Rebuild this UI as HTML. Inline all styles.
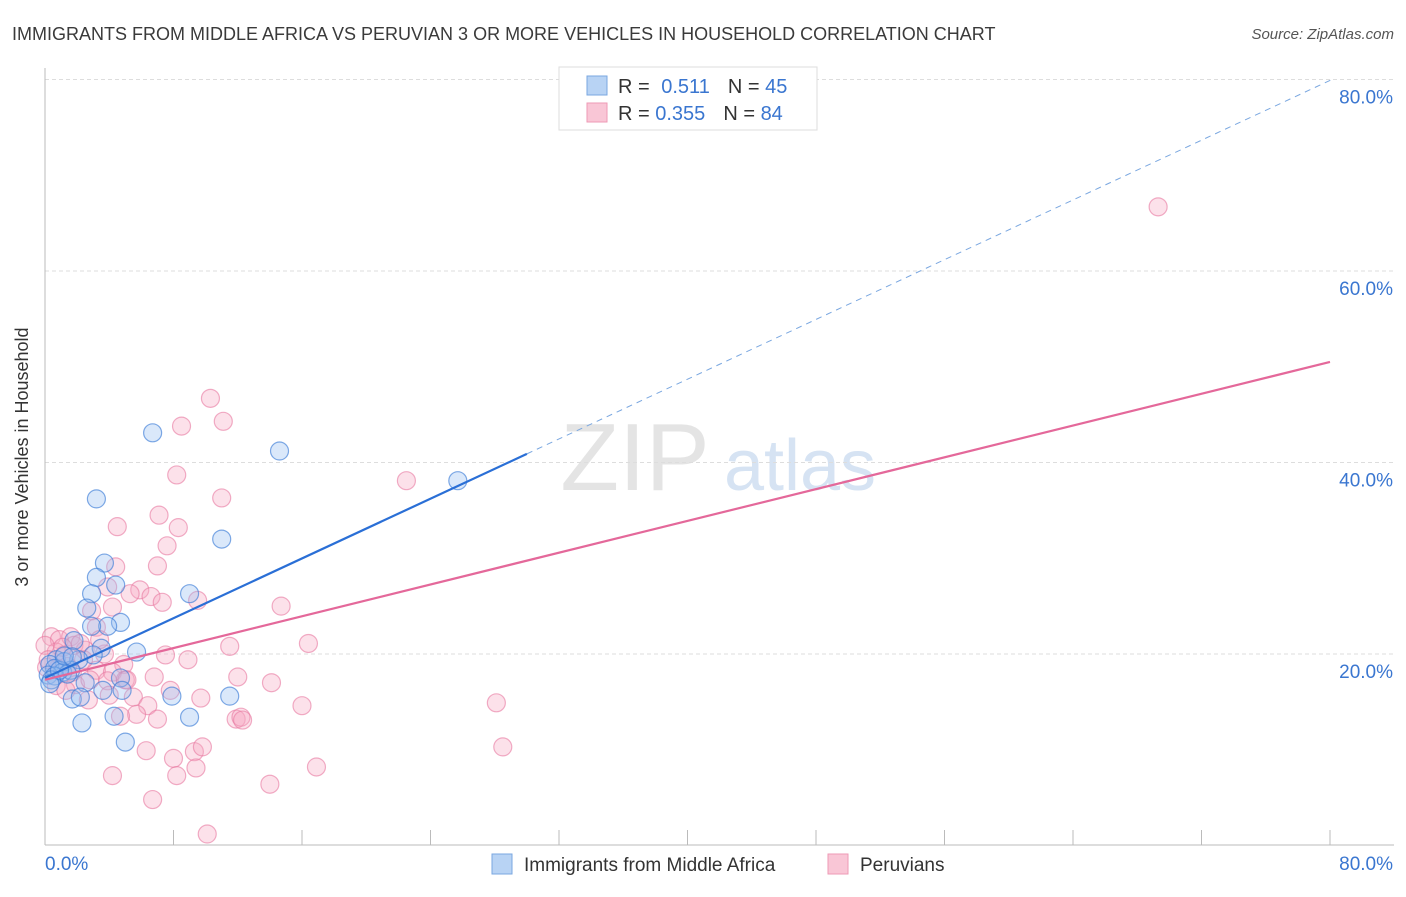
<!DOCTYPE html>
<html><head><meta charset="utf-8"><style>
body{margin:0;background:#fff;font-family:"Liberation Sans",sans-serif}
svg text{font-family:"Liberation Sans",sans-serif}
</style></head><body>
<svg width="1406" height="892" id="chart">
<text x="12" y="40" font-size="18" fill="#3a3a3a">IMMIGRANTS FROM MIDDLE AFRICA VS PERUVIAN 3 OR MORE VEHICLES IN HOUSEHOLD CORRELATION CHART</text>
<text x="1394" y="39" font-size="15" fill="#555" text-anchor="end" font-style="italic">Source: ZipAtlas.com</text>
<text x="28" y="457" font-size="18" fill="#333" text-anchor="middle" transform="rotate(-90 28 457)">3 or more Vehicles in Household</text>
<g><text x="635" y="490" font-size="96" fill="#e4e4e4" text-anchor="middle" font-family="Liberation Serif">ZIP</text><text x="800" y="490" font-size="72" fill="#d6e3f3" text-anchor="middle">atlas</text></g>
<g id="grid"></g><g id="axes"></g><g id="pts"></g><g id="trends"></g>
<g>
<rect x="559" y="67" width="258" height="63" fill="#fff" stroke="#ddd"/>
<rect x="587" y="76" width="20" height="19" fill="#b8d3f4" stroke="#7aa7e0"/>
<rect x="587" y="103" width="20" height="19" fill="#f9c6d6" stroke="#ee9ab5"/>
<text x="618" y="93" font-size="20" fill="#333">R = <tspan fill="#3a76d0" dx="6">0.511</tspan><tspan fill="#333" dx="18">N = </tspan><tspan fill="#3a76d0">45</tspan></text>
<text x="618" y="120" font-size="20" fill="#333">R = <tspan fill="#3a76d0">0.355</tspan><tspan fill="#333" dx="18">N = </tspan><tspan fill="#3a76d0">84</tspan></text>
</g>
<g>
<rect x="492" y="854" width="20" height="20" fill="#b8d3f4" stroke="#7aa7e0"/>
<text x="524" y="871" font-size="19" fill="#333">Immigrants from Middle Africa</text>
<rect x="828" y="854" width="20" height="20" fill="#f9c6d6" stroke="#ee9ab5"/>
<text x="860" y="871" font-size="19" fill="#333">Peruvians</text>
</g>
</svg>
<script>
const blueX=[6.7,14.6,3.2,25.7,11.0,3.7,3.2,4.4,2.9,9.0,2.6,4.7,3.9,2.9,1.8,3.5,5.7,3.0,0.7,1.2,2.1,0.3,0.6,1.1,1.6,0.2,0.6,1.4,0.4,2.5,4.7,3.6,4.8,7.9,11.5,1.7,2.2,4.3,9.0,2.3,5.0,0.9,1.2,1.7,0.3];
const blueY=[43.1,41.2,36.2,38.1,32.0,29.5,28.0,27.2,26.3,26.3,24.8,23.3,22.9,22.9,21.4,20.6,20.2,19.9,19.4,19.2,19.4,18.9,18.5,18.1,18.3,17.8,17.7,17.9,17.3,17.0,17.5,16.2,16.2,15.6,15.6,15.3,15.5,13.5,13.4,12.8,10.8,18.3,19.8,19.7,16.9];
const pinkX=[69.3,10.3,11.1,8.5,8.2,22.5,11.0,4.5,7.1,8.3,7.6,4.4,7.0,3.9,5.9,5.3,6.6,7.3,9.5,14.7,4.2,2.9,3.2,0.4,0.9,1.6,1.8,16.4,11.5,0.7,1.2,2.5,3.7,7.5,8.9,4.9,0.1,0.8,1.7,3.2,4.2,5.0,6.8,12.0,14.1,0.7,1.9,3.9,5.1,2.7,5.5,7.8,9.7,16.0,28.1,6.4,5.7,4.7,7.0,11.9,12.2,12.3,9.3,9.8,6.3,8.0,28.5,9.4,4.2,8.2,16.9,6.7,14.0,10.1,2.4,1.1,1.4,2.2,0.0,3.4,2.8,0.2,1.3,4.0];
const pinkY=[66.7,46.7,44.3,43.8,38.7,38.1,36.3,33.3,34.5,33.2,31.3,29.1,29.2,27.0,26.7,26.3,26.0,25.4,25.6,25.0,24.9,24.5,22.8,21.8,21.5,21.8,20.9,21.1,20.8,20.2,19.9,20.4,20.0,19.9,19.4,18.9,18.6,18.5,18.1,18.3,18.1,17.3,17.6,17.6,17.0,16.7,16.8,17.2,17.3,15.2,15.5,16.2,15.4,14.6,14.9,14.6,13.7,13.5,13.2,13.2,13.4,13.1,9.8,10.3,9.9,9.1,10.3,8.1,7.3,7.3,8.2,4.8,6.4,1.2,19.4,20.7,18.7,21.1,20.9,21.5,17.3,19.4,16.2,15.7];
const yTicks=[20,40,60,80];
const yTickLabels=["20.0%","40.0%","60.0%","80.0%"];
const xTicks=[0,8,16,24,32,40,48,56,64,72,80];
const blueTrend=[17.5,0.78,30.0];
const pinkTrend=[17.3,0.415,80];
const NS="http://www.w3.org/2000/svg";
const sx=v=>45+v/80*1285, sy=v=>845.5-v*9.575;
function mk(t,a,p){const e=document.createElementNS(NS,t);for(const k in a)e.setAttribute(k,a[k]);p.appendChild(e);return e;}
const grid=document.getElementById('grid'),axes=document.getElementById('axes'),pts=document.getElementById('pts'),tr=document.getElementById('trends');
yTicks.forEach((v,i)=>{
const l=mk('line',{x1:45,x2:1394,y1:sy(v),y2:sy(v),stroke:'#ddd','stroke-dasharray':'4,3'},grid);


const t=mk('text',{x:1393,y:sy(v)+24,'font-size':19,fill:'#3a76d0','text-anchor':'end'},axes);
t.textContent=yTickLabels[i];


});
const ax=mk('line',{x1:45,x2:1394,y1:845,y2:845,stroke:'#bbb'},axes);


const ay=mk('line',{x1:45,x2:45,y1:68,y2:845,stroke:'#bbb'},axes);


xTicks.forEach(v=>{
const t=mk('line',{x1:sx(v),x2:sx(v),y1:830,y2:845,stroke:'#bbb'},axes);


});
const xl0=mk('text',{x:45,y:870,'font-size':19,fill:'#3a76d0'},axes);xl0.textContent='0.0%';


const xl1=mk('text',{x:1393,y:870,'font-size':19,fill:'#3a76d0','text-anchor':'end'},axes);xl1.textContent='80.0%';


pinkX.forEach((x,i)=>{
const c=mk('circle',{cx:sx(x),cy:sy(pinkY[i]),r:9,fill:'rgba(246,170,195,0.35)',stroke:'rgba(232,120,160,0.6)','stroke-width':1.2},pts);


});
blueX.forEach((x,i)=>{
const c=mk('circle',{cx:sx(x),cy:sy(blueY[i]),r:9,fill:'rgba(150,190,240,0.35)',stroke:'rgba(60,125,215,0.65)','stroke-width':1.2},pts);


});
const bEnd=blueTrend[2], bx80=(80-blueTrend[0])/blueTrend[1];
const bd=mk('line',{x1:sx(bEnd),y1:sy(blueTrend[0]+blueTrend[1]*bEnd),x2:sx(bx80),y2:sy(80),stroke:'#7aa7e0','stroke-width':1,'stroke-dasharray':'6,5'},tr);


const bl=mk('line',{x1:sx(0),y1:sy(blueTrend[0]),x2:sx(bEnd),y2:sy(blueTrend[0]+blueTrend[1]*bEnd),stroke:'#2a6fd6','stroke-width':2.2},tr);


const pl=mk('line',{x1:sx(0),y1:sy(pinkTrend[0]),x2:sx(pinkTrend[2]),y2:sy(pinkTrend[0]+pinkTrend[1]*pinkTrend[2]),stroke:'#e4689a','stroke-width':2.2},tr);


</script>
</body></html>
